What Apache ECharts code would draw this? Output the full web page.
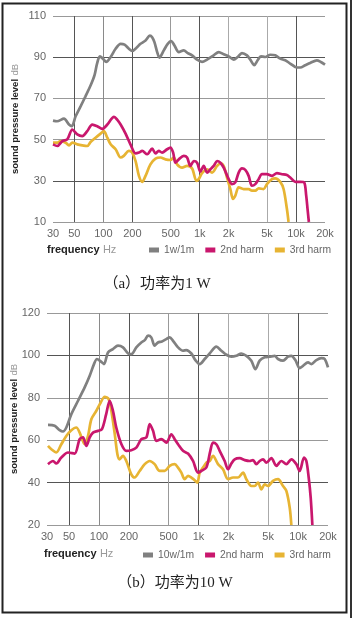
<!DOCTYPE html>
<html>
<head>
<meta charset="utf-8">
<script src="https://cdn.jsdelivr.net/npm/echarts@6/dist/echarts.min.js"></script>
<style>
html,body{margin:0;padding:0;background:#fff;}
#chart{width:352px;height:618px;}
</style>
</head>
<body>
<div id="chart"></div>
<script>
//频率刻度
var tickHz = [30, 50, 100, 200, 500, 1000, 2000, 5000, 10000, 20000];
var gridHz = [50, 100, 200, 500, 1000, 2000, 5000, 10000];

//(a) 功率为1 W
var a_fund_hz = [30,33,39,44,47,51.5,58,65,74,81,86,92,99,107,119,134,151,166,184,199,221,243,274,304,321,339,362,382,424,466,505,547,607,683,752,834,940,1058,1193,1398,1576,1775,2000,2253,2478,2749,3097,3354,3688,3995,4327,4797,5406,6091,6863,7729,8711,9813,11058,12460,14038,16457,18105,20000];
var a_fund_db = [59.2,58.9,60.2,57.3,56.5,61.3,66.1,70.9,76.5,81.3,86.9,90.4,89.3,87.7,90.1,94.1,96.5,96.1,94.1,93.0,94.6,96.5,98.1,100.5,99.7,97.3,92.5,89.8,93.3,96.5,97.8,95.7,92.5,93.3,92.0,90.9,88.8,87.7,88.8,90.9,92.5,91.4,90.4,88.8,90.1,92.0,90.9,88.8,86.1,88.5,90.4,90.1,91.2,90.9,89.3,88.5,86.9,85.3,85.0,86.1,87.2,88.5,87.7,86.4];
var a_h2_hz = [30,33.3,37.5,42.2,47.6,53.6,60.4,68,76.7,86.4,97.4,110,129,139,151,170,191,216,234,253,285,321,348,376,407,459,497,530,560,607,683,740,801,868,940,1017,1101,1193,1291,1398,1514,1640,1775,2000,2165,2344,2539,2749,2976,3223,3490,3779,4093,4431,4991,5625,6338,7141,8042,8711,9813,11058,12165,12761,13173,13600];
var a_h2_db = [47.7,46.9,49.3,50.1,54.9,52.5,51.7,54.1,57.3,56.5,55.2,57.3,61.0,59.7,57.3,52.9,47.7,43.3,43.7,44.5,42.9,45.6,43.3,44.5,43.7,45.3,46.1,43.7,38.8,40.4,42.1,41.3,37.2,39.6,38.8,34.4,37.2,34.0,35.6,37.2,39.6,38.8,36.4,30.8,28.4,29.2,34.0,36.0,35.3,32.4,27.6,28.4,30.8,33.2,33.2,32.4,33.7,33.2,32.8,31.6,29.5,29.5,29.2,22.8,16.4,10];
var a_h3_hz = [30,33.3,36,40.6,44,47.6,53.6,60.4,68,73.7,83,93.6,101,110,119,134,151,163,184,199,216,234,253,274,308,348,392,441,497,538,583,657,740,834,925,977,1058,1193,1344,1514,1640,1775,1922,2081,2218,2344,2539,2860,3223,3490,3779,4093,4610,4991,5625,6091,6863,7430,8042,8369];
var a_h3_db = [48.5,48.5,49.3,48.5,47.2,48.5,47.7,47.2,46.9,48.8,50.9,52.9,54.1,50.9,47.7,45.3,41.3,42.1,44.5,43.7,39.6,32.4,29.5,32.4,38.0,40.8,41.3,40.4,40.1,41.3,38.0,36.4,37.2,36.0,30.0,30.8,33.7,35.6,34.0,37.2,38.5,37.2,31.6,26.0,21.2,22.8,26.8,26.0,26.0,25.2,25.2,26.3,26.0,28.4,30.8,31.2,29.5,26.0,16.4,10];

//(b) 功率为10 W
var b_fund_hz = [30.7,35.8,40.2,43.4,46.9,52.7,61.5,71.7,80.6,89,95.4,104,112,123,138,155,174,196,211,237,266,288,311,335,362,391,429,475,513,554,622,698,754,847,929,1027,1153,1294,1510,1695,1903,2137,2399,2693,3024,3394,3723,4115,4620,5188,5823,6292,7064,7929,8565,9395,10389,11222,12596,13608,15276,17149,18525,20000];
var b_fund_db = [67.2,66.8,64.7,64.1,66.0,72.3,78.6,84.9,90.4,95.9,98.3,97.2,95.9,101.4,103.0,104.6,103.8,100.9,100.6,103.8,106.1,107.2,109.3,108.5,104.6,106.1,106.6,107.7,108.5,106.9,103.8,102.2,102.5,100.9,97.8,95.9,98.3,100.9,104.1,102.2,100.3,99.4,99.8,100.9,99.8,97.5,93.5,97.5,99.1,99.4,99.8,98.3,97.5,99.4,99.8,97.8,94.0,95.1,96.7,95.9,97.8,98.7,98.3,94.3];
var b_h2_hz = [30.7,34.5,37.2,41.8,48.8,56.9,63.9,69,74.6,80.6,87,97.7,107,118,128,138,149,168,188,211,237,266,299,323,349,377,423,475,533,576,622,698,784,880,988,1067,1198,1314,1398,1510,1631,1831,1978,2137,2308,2591,2909,3266,3527,3810,4115,4446,4802,5391,6053,6796,7629,8565,9617,10389,11484,12123,12795,13401,13926];
var b_h2_db = [48.7,50.2,49.0,51.8,54.2,53.7,60.5,61.3,57.3,61.3,63.6,64.4,65.2,72.3,78.6,73.9,66.0,58.1,55.0,55.3,56.5,60.5,61.3,67.6,64.4,59.7,60.5,58.9,62.8,60.5,58.1,55.0,53.7,50.2,44.7,45.5,47.1,55.0,58.9,58.1,55.0,50.2,46.3,49.0,51.0,51.5,50.6,50.2,50.6,48.7,50.2,51.0,49.4,51.5,47.9,50.2,48.7,51.0,48.7,45.5,51.8,50.2,42.4,32.9,20];
var b_h3_hz = [30.7,33.2,37.2,41.8,46.9,52.7,59.1,63.9,71.7,77.5,83.7,94,104,114,125,133,144,153,161,174,188,211,228,256,288,323,362,407,457,513,576,622,672,726,784,847,915,973,1027,1109,1198,1294,1398,1569,1762,1978,2221,2493,2799,3024,3394,3665,3960,4278,4620,4991,5604,6292,7064,7629,8245,8565];
var b_h3_db = [57.3,55.7,54.2,58.1,62.0,64.7,66.0,63.6,58.1,62.0,69.9,73.9,77.8,80.5,79.4,73.9,62.8,53.4,51.0,52.6,50.2,43.9,42.4,45.5,48.7,50.2,48.7,45.5,45.5,47.9,48.7,47.1,44.7,41.6,43.2,42.4,41.1,40.0,44.7,47.1,49.4,50.2,52.6,48.7,46.3,41.6,42.4,42.4,44.7,41.6,38.4,38.4,40.0,36.8,39.2,38.4,40.8,41.6,38.4,36.1,28.2,20];

var colorFund = '#808080';
var color2nd = '#c9176d';
var color3rd = '#e7b433';
var fontSans = '"Liberation Sans", Arial, sans-serif';

function toPairs(hz, db){
	var arr = [];
	for(var i = 0; i < hz.length; i++){
		arr.push([hz[i], db[i]]);
	}
	return arr;
}

function hzLabel(v){
	return v >= 1000 ? (v / 1000) + 'k' : String(v);
}

function makeXAxis(idx){
	return {
		type: 'log',
		logBase: 10,
		gridIndex: idx,
		min: 30,
		max: 20000,
		axisLine: {show: false},
		axisTick: {show: false, customValues: gridHz},
		axisLabel: {
			customValues: tickHz,
			formatter: hzLabel,
			color: '#666',
			fontSize: 11,
			fontFamily: fontSans,
			margin: 6,
			showMinLabel: true,
			showMaxLabel: true,
			hideOverlap: false
		},
		splitLine: {
			show: true,
			lineStyle: {
				color: ['#555', '#8a8a8a', '#555', '#999', '#555', '#aaa', '#aaa', '#555'],
				width: 1
			}
		}
	};
}

function makeYAxis(idx, min, max, nameGap){
	return {
		type: 'value',
		gridIndex: idx,
		min: min,
		max: max,
		interval: 20,
		name: '{b|sound pressure level} {u|dB}',
		nameLocation: 'middle',
		nameRotate: 90,
		nameGap: nameGap,
		nameMoveOverlap: false,
		nameTextStyle: {
			rich: {
				b: {fontWeight: 'bold', fontSize: 9.5, color: '#222', fontFamily: fontSans},
				u: {fontSize: 9.5, color: '#999', fontFamily: fontSans}
			}
		},
		axisLine: {show: false},
		axisTick: {show: false},
		axisLabel: {color: '#666', fontSize: 11, fontFamily: fontSans, margin: 7},
		splitLine: {
			show: true,
			lineStyle: {color: ['#999', '#555', '#999'], width: 1}
		}
	};
}

function makeLine(name, idx, hz, db, color){
	return {
		name: name,
		type: 'line',
		xAxisIndex: idx,
		yAxisIndex: idx,
		data: toPairs(hz, db),
		showSymbol: false,
		smooth: 0.3,
		clip: true,
		lineStyle: {width: 2.7, color: color},
		itemStyle: {color: color}
	};
}

function makeLegend(left, top, first){
	return {
		left: left,
		top: top,
		icon: 'rect',
		itemWidth: 10,
		itemHeight: 5,
		itemGap: 11,
		data: [first, '2nd harm', '3rd harm'],
		textStyle: {color: '#666', fontSize: 10.3, fontFamily: fontSans}
	};
}

var myChart = echarts.init(document.getElementById('chart'), null, {renderer: 'canvas'});

var option = {
	animation: false,
	backgroundColor: '#fff',
	grid: [
		{left: 53, right: 27, top: 16, height: 206, outerBoundsMode: 'none'},
		{left: 47, right: 24, top: 313, height: 212, outerBoundsMode: 'none'}
	],
	xAxis: [makeXAxis(0), makeXAxis(1)],
	yAxis: [makeYAxis(0, 10, 110, 32), makeYAxis(1, 20, 120, 27)],
	legend: [
		makeLegend(144, 240, '1w/1m'),
		makeLegend(138, 545, '10w/1m')
	],
	series: [
		makeLine('1w/1m', 0, a_fund_hz, a_fund_db, colorFund),
		makeLine('3rd harm', 0, a_h3_hz, a_h3_db, color3rd),
		makeLine('2nd harm', 0, a_h2_hz, a_h2_db, color2nd),
		makeLine('10w/1m', 1, b_fund_hz, b_fund_db, colorFund),
		makeLine('3rd harm', 1, b_h3_hz, b_h3_db, color3rd),
		makeLine('2nd harm', 1, b_h2_hz, b_h2_db, color2nd)
	],
	graphic: {
		elements: [
			//外边框
			{
				type: 'rect',
				shape: {x: 2.5, y: 3.5, width: 344, height: 609},
				style: {fill: 'none', stroke: '#222', lineWidth: 2},
				silent: true
			},
			{
				type: 'line',
				shape: {x1: 351, y1: 0, x2: 351, y2: 618},
				style: {stroke: '#333', lineWidth: 2},
				silent: true
			},
			//横轴标题
			{
				type: 'text',
				x: 47,
				y: 250,
				style: {
					text: '{b|frequency} {u|Hz}',
					verticalAlign: 'middle',
					rich: {
						b: {fontWeight: 'bold', fontSize: 11, fill: '#222', fontFamily: fontSans},
						u: {fontSize: 11, fill: '#999', fontFamily: fontSans}
					}
				}
			},
			{
				type: 'text',
				x: 44,
				y: 554,
				style: {
					text: '{b|frequency} {u|Hz}',
					verticalAlign: 'middle',
					rich: {
						b: {fontWeight: 'bold', fontSize: 11, fill: '#222', fontFamily: fontSans},
						u: {fontSize: 11, fill: '#999', fontFamily: fontSans}
					}
				}
			},
			//图注
			{
				type: 'text',
				x: 157,
				y: 284,
				style: {
					text: '（a）功率为1 W',
					align: 'center',
					verticalAlign: 'middle',
					font: '15px "Liberation Serif", "Noto Sans CJK SC", serif',
					fill: '#222'
				}
			},
			{
				type: 'text',
				x: 175,
				y: 583,
				style: {
					text: '（b）功率为10 W',
					align: 'center',
					verticalAlign: 'middle',
					font: '15px "Liberation Serif", "Noto Sans CJK SC", serif',
					fill: '#222'
				}
			}
		]
	}
};

myChart.setOption(option);
</script>
</body>
</html>
